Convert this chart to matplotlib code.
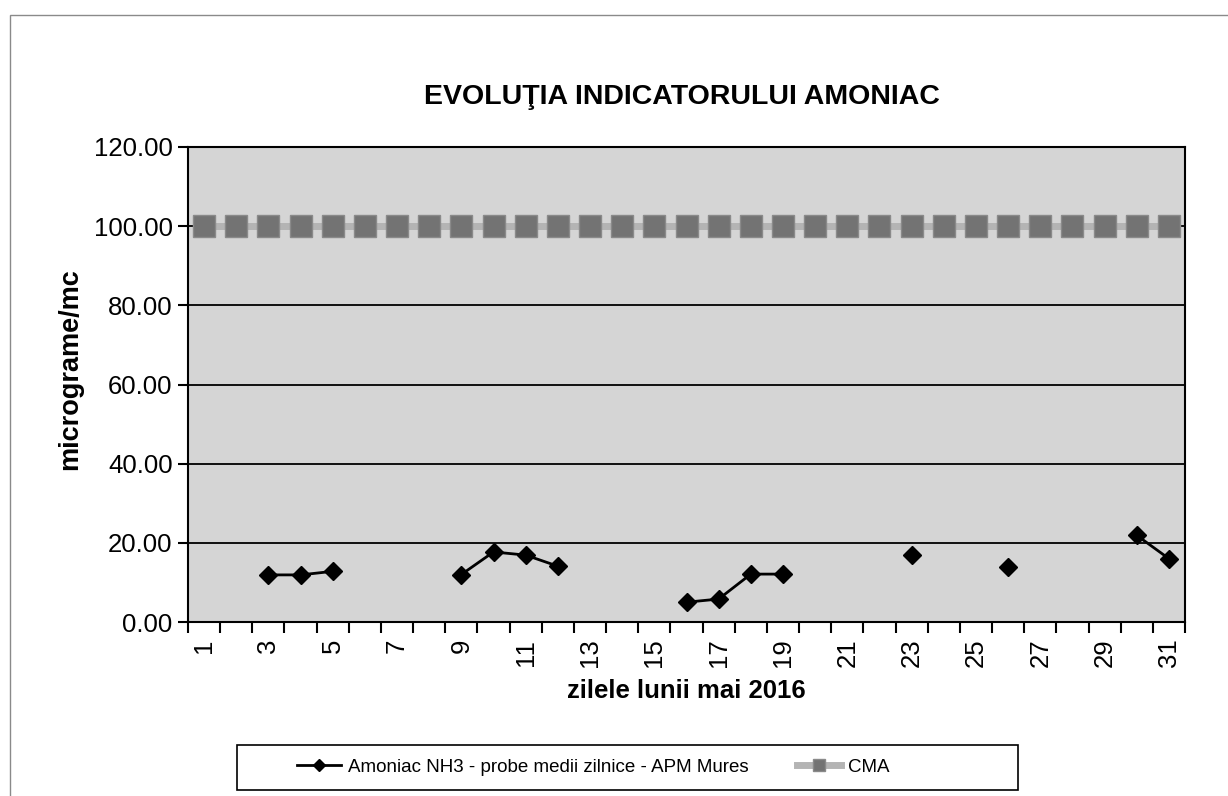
import numpy as np
import matplotlib
matplotlib.use("Agg")
import matplotlib.pyplot as plt
from matplotlib.patches import Rectangle

plt.rcParams['font.family'] = ['Liberation Sans', 'DejaVu Sans']

title = "EVOLUŢIA INDICATORULUI AMONIAC"
ylabel = "micrograme/mc"
xlabel = "zilele lunii mai 2016"
series_nh3_name = "Amoniac NH3 - probe medii zilnice - APM Mures"
series_cma_name = "CMA"

days = list(range(1, 32))
nan = np.nan
nh3 = [nan, nan, 11.9, 11.9, 12.8, nan, nan, nan, 12.0, 17.7, 16.9, 14.1,
       nan, nan, nan, 5.0, 5.8, 12.1, 12.1, nan, nan, nan, 16.9, nan, nan,
       14.0, nan, nan, nan, 21.9, 16.0]
cma = [100.0] * 31
yticks = [0, 20, 40, 60, 80, 100, 120]
xtick_days = list(range(1, 32, 2))

W, H = 1228, 796
fig = plt.figure(figsize=(W/100, H/100), dpi=100)
ax = fig.add_axes([188/W, 1-622/H, (1185-188)/W, (622-147)/H])
ax.set_facecolor('#d5d5d5')

# outer chart border (partially visible)
fig.patches.append(Rectangle((10/W, -0.05), 1.2, 1-15/H+0.05,
                             transform=fig.transFigure, fill=False,
                             edgecolor='#8a8a8a', lw=1.0))

for y in yticks[1:-1]:
    ax.axhline(y, color='black', lw=1.3, zorder=1)

ax.plot(days, cma, color='#b4b4b4', lw=5, marker='s', markersize=15.5,
        markerfacecolor='#737373', markeredgecolor='#8a8a8a',
        markeredgewidth=1, zorder=3, label=series_cma_name)
ax.plot(days, nh3, color='black', lw=2, marker='D', markersize=9.5,
        markerfacecolor='black', markeredgecolor='black', zorder=4,
        label=series_nh3_name)

ax.set_xlim(0.5, 31.5)
ax.set_ylim(0, 120)
ax.set_yticks(yticks)
ax.set_yticklabels([f"{v:.2f}" for v in yticks], fontsize=18.5)
ax.tick_params(axis='y', direction='out', length=7, width=1.5, pad=4)

ax.set_xticks(xtick_days)
ax.set_xticklabels([str(d) for d in xtick_days], rotation=90, fontsize=18.5,
                   va='top', ha='center')
ax.set_xticks(np.arange(0.5, 32, 1), minor=True)
ax.tick_params(axis='x', which='major', length=0, pad=12)
ax.tick_params(axis='x', which='minor', direction='out', length=8, width=1.5)

for s in ax.spines.values():
    s.set_color('black')
    s.set_linewidth(1.5)

ax.set_ylabel(ylabel, fontsize=19.5, fontweight='bold')
ax.yaxis.set_label_coords((83-188)/997, (622-369)/475)
ax.set_xlabel(xlabel, fontsize=18.5, fontweight='bold', labelpad=8)
fig.text(682/W, 1-97/H, title, fontsize=20.5, fontweight='bold',
         ha='center', va='center')

h, l = ax.get_legend_handles_labels()
leg = fig.legend(h[::-1], l[::-1], loc='center left',
                 bbox_to_anchor=(288/W, 1-767/H),
                 ncol=2, fontsize=13.5, frameon=False,
                 handlelength=2.3, handletextpad=0.4, columnspacing=2.6,
                 borderpad=0, markerscale=0.6)
fig.patches.append(Rectangle((237/W, 1-790/H), (1018-237)/W, (790-745)/H,
                             transform=fig.transFigure, fill=False,
                             edgecolor='black', lw=1.2))

fig.savefig("out.png", dpi=100, facecolor='white')
